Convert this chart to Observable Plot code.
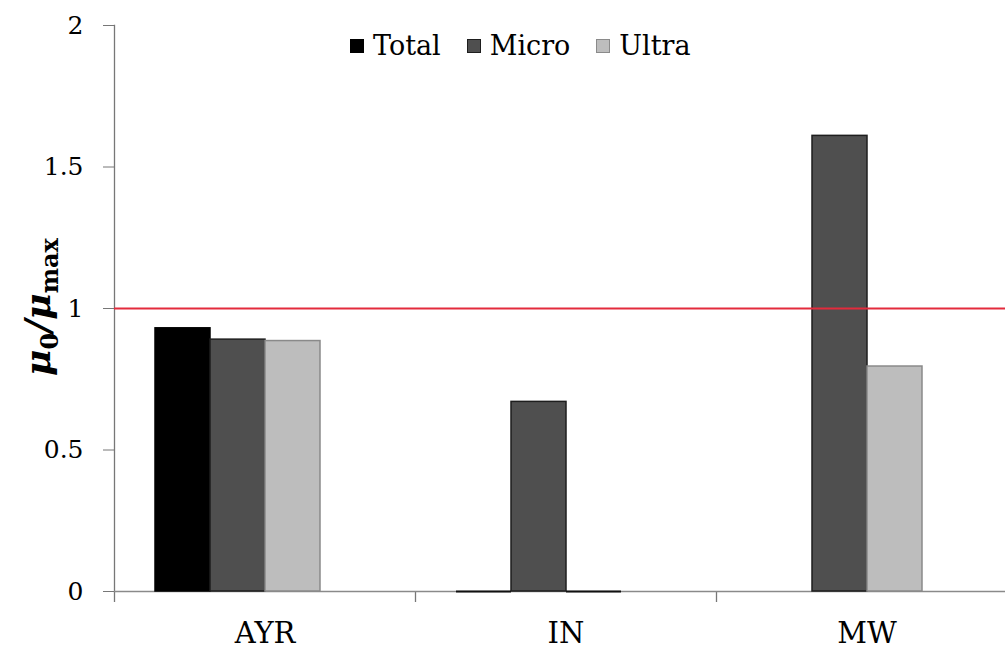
<!DOCTYPE html>
<html>
<head>
<meta charset="utf-8">
<script src="https://cdn.jsdelivr.net/npm/d3@7"></script>
<script src="https://cdn.jsdelivr.net/npm/@observablehq/plot@0.6"></script>
<style>
  html, body { margin: 0; padding: 0; background: #fff; overflow: hidden; }
  #wrap { position: relative; width: 1005px; height: 652px; }
  #legend { position: absolute; top: 30px; left: 350px; display: flex; align-items: center;
            font-family: "DejaVu Serif", serif; font-size: 27px; color: #000; white-space: nowrap; line-height: 32px; }
  #legend .item { display: flex; align-items: center; margin-right: 26px; }
  #legend .sw { width: 14px; height: 14px; margin-right: 9px; box-sizing: border-box; border: 1.5px solid #000; }
  #ylabel { position: absolute; left: 40px; top: 307px; transform: translate(-50%, -50%) rotate(-90deg);
            font-family: "DejaVu Serif", serif; font-size: 36px; font-weight: bold; white-space: nowrap; color: #000; }
  #ylabel i { font-style: italic; }
  #ylabel sub { font-size: 24px; vertical-align: -8px; font-style: normal; }
</style>
</head>
<body>
<div id="wrap">
  <div id="chart"></div>
  <div id="legend"></div>
  <div id="ylabel"><i>μ</i><sub>0</sub><i>/μ</i><sub>max</sub></div>
</div>
<script>
// ---- data ----
const categories = ["AYR", "IN", "MW"];
const seriesNames = ["Total", "Micro", "Ultra"];
const slots = ["Total", "Micro", "Ultra", "(blank)"];   // 4th, empty slot in each group
const totalValues = [0.93, 0, null];
const microValues = [0.89, 0.67, 1.61];
const ultraValues = [0.885, 0, 0.795];
const yTicks = [0, 0.5, 1, 1.5, 2];
const referenceLine = [1];

// ---- styles ----
const fills = ["#000000", "#4f4f4f", "#bdbdbd"];
const strokes = ["#000000", "#1e1e1e", "#8a8a8a"];

const seriesValues = [totalValues, microValues, ultraValues];
const rows = [];
categories.forEach((c, i) => {
  seriesNames.forEach((s, j) => {
    const v = seriesValues[j][i];
    if (v != null) rows.push({category: c, series: s, value: v});
  });
});

const W = 1005, H = 652, mL = 114, mR = -12, mT = 25, mB = 61;
const fxStep = (W - mL - mR) / categories.length;

const chart = Plot.plot({
  width: W, height: H,
  marginLeft: mL, marginRight: mR, marginTop: mT, marginBottom: mB,
  style: {fontFamily: "DejaVu Serif, serif", color: "#000", background: "transparent", overflow: "hidden"},
  fx: {domain: categories, padding: 0, label: null, axis: null},
  x: {domain: slots, paddingInner: 0, paddingOuter: 0.72, axis: null},
  y: {domain: [0, 2], label: null},
  marks: [
    Plot.axisY({ticks: yTicks, tickSize: 11, tickPadding: 20, fontSize: 25, tickFormat: d => String(d), stroke: "#777", label: null}),
    Plot.axisFx({anchor: "bottom", tickSize: 0, tickPadding: 31, fontSize: 29, label: null}),
    Plot.gridFx({insetTop: H - mT - mB, insetBottom: -11, dx: -fxStep / 2, stroke: "#777", strokeOpacity: 1, strokeWidth: 1.3}),
    Plot.frame({anchor: "left", fx: () => categories[0], stroke: "#777", strokeWidth: 1.3}),
    Plot.ruleY([0], {stroke: "#8a8a8a", strokeWidth: 1.5}),
    ...seriesNames.map((s, j) => Plot.barY(rows.filter(r => r.series === s), {
      fx: "category", x: "series", y: "value", fill: fills[j], stroke: strokes[j], strokeWidth: 1.5
    })),
    Plot.tickY(rows.filter(r => r.value === 0), {fx: "category", x: "series", y: "value", stroke: "#111", strokeWidth: 2}),
    Plot.ruleY(referenceLine, {stroke: "#e32b3c", strokeWidth: 2})
  ]
});
document.getElementById("chart").appendChild(chart);

// legend
const legend = document.getElementById("legend");
seriesNames.forEach((s, j) => {
  const item = document.createElement("div");
  item.className = "item";
  const sw = document.createElement("span");
  sw.className = "sw";
  sw.style.background = fills[j];
  sw.style.borderColor = j === 0 ? "#000" : strokes[j];
  const t = document.createElement("span");
  t.textContent = s;
  item.appendChild(sw); item.appendChild(t);
  legend.appendChild(item);
});
</script>
</body>
</html>
